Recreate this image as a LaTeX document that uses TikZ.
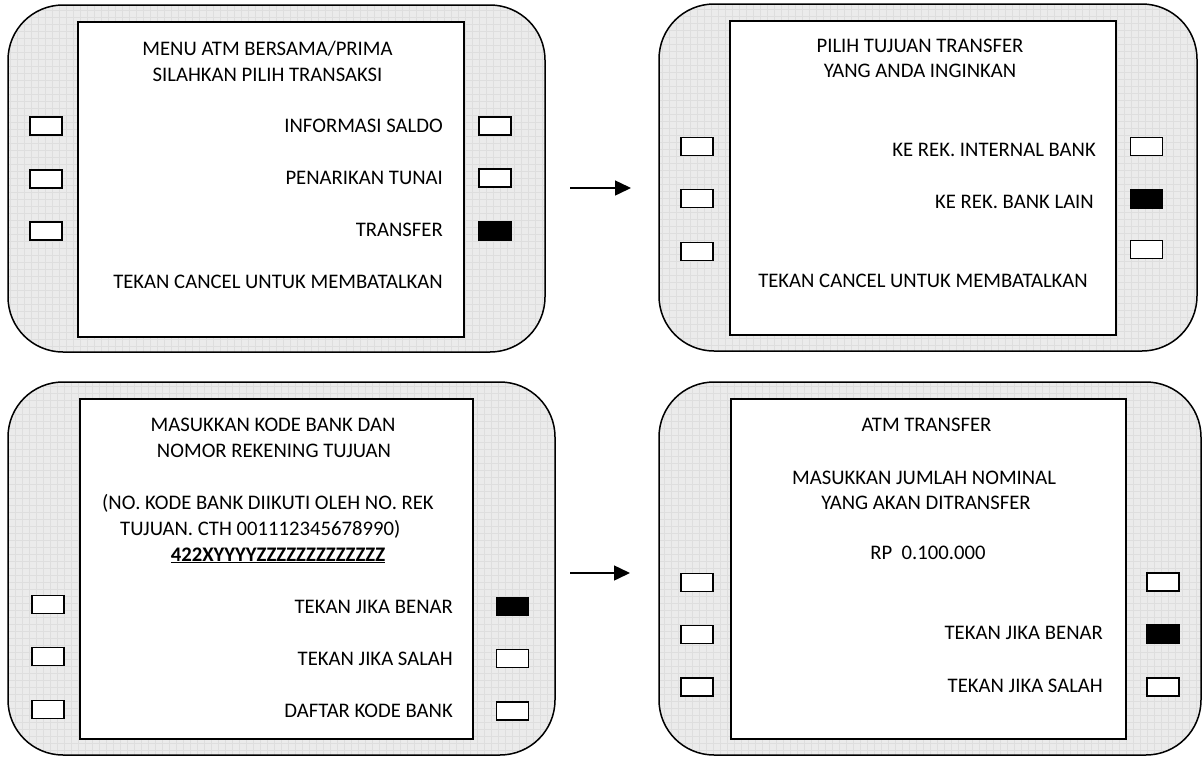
\documentclass[tikz,border=0pt]{standalone}
\usepackage{fontspec}
\setmainfont{Carlito}
\usetikzlibrary{arrows.meta}
\begin{document}
\begin{tikzpicture}[x=1pt,y=-1pt,
  panel/.style={draw, line width=1.5pt, rounded corners=55pt, fill=black!8, inner sep=0pt,
    path picture={\draw[black!13, line width=0.5pt, step=7pt] (path picture bounding box.south west) grid (path picture bounding box.north east);}},
  screen/.style={draw, line width=1.6pt, fill=white, inner sep=0pt},
  btn/.style={draw, line width=1.7pt, fill=white, minimum width=32pt, minimum height=18pt, inner sep=0pt},
  btnon/.style={btn, fill=black},
  txt/.style={font=\fontsize{20.7}{24}\selectfont, inner sep=0pt, anchor=base},
  rtxt/.style={txt, anchor=base east},
  ltxt/.style={txt, anchor=base west},
  arr/.style={line width=1.5pt, -{Triangle[length=16pt,width=15pt]}}]
\useasboundingbox (0,0) rectangle (1203,756);
% panels
\node[panel, minimum width=537pt, minimum height=347pt] (p1) at (276.5,178.5) {};
\node[panel, minimum width=538pt, minimum height=347pt] (p2) at (928,177.5) {};
\node[panel, minimum width=547pt, minimum height=373pt] (p3) at (281.5,568.5) {};
\node[panel, minimum width=542pt, minimum height=373pt] (p4) at (930,568.5) {};
% screens
\node[screen, minimum width=386pt, minimum height=315pt] (s1) at (271,179.5) {};
\node[screen, minimum width=386pt, minimum height=314pt] (s2) at (923,178) {};
\node[screen, minimum width=393pt, minimum height=340pt] (s3) at (276.5,569) {};
\node[screen, minimum width=395pt, minimum height=340pt] (s4) at (928.5,569) {};
% buttons panel 1
\node[btn] (b1l1) at (46,126) {};
\node[btn] (b1l2) at (46,179) {};
\node[btn] (b1l3) at (46,231) {};
\node[btn] (b1r1) at (495,126) {};
\node[btn] (b1r2) at (495,178) {};
\node[btnon] (b1r3) at (495,231) {};
% buttons panel 2
\node[btn] (b2l1) at (697,146.5) {};
\node[btn] (b2l2) at (697,198.5) {};
\node[btn] (b2l3) at (697,251.5) {};
\node[btn] (b2r1) at (1146.5,146.5) {};
\node[btnon] (b2r2) at (1146.5,199) {};
\node[btn] (b2r3) at (1146.5,249.5) {};
% buttons panel 3
\node[btn] (b3l1) at (48,604.5) {};
\node[btn] (b3l2) at (48,656.5) {};
\node[btn] (b3l3) at (48,709.5) {};
\node[btnon] (b3r1) at (512.5,606.5) {};
\node[btn] (b3r2) at (512.5,658.5) {};
\node[btn] (b3r3) at (512.5,711) {};
% buttons panel 4
\node[btn] (b4l1) at (697,582.5) {};
\node[btn] (b4l2) at (697,634.5) {};
\node[btn] (b4l3) at (697,687) {};
\node[btn] (b4r1) at (1163,582) {};
\node[btnon] (b4r2) at (1163,634) {};
\node[btn] (b4r3) at (1163,687) {};
% texts panel 1
\node[txt] (t11) at (267.5,55) {MENU ATM BERSAMA/PRIMA};
\node[txt] (t12) at (267.5,81) {SILAHKAN PILIH TRANSAKSI};
\node[rtxt] (t13) at (443,132) {INFORMASI SALDO};
\node[rtxt] (t14) at (443,184) {PENARIKAN TUNAI};
\node[rtxt] (t15) at (443,236) {TRANSFER};
\node[txt] (t16) at (278,288) {TEKAN CANCEL UNTUK MEMBATALKAN};
% texts panel 2
\node[txt] (t21) at (920,52) {PILIH TUJUAN TRANSFER};
\node[txt] (t22) at (920,77) {YANG ANDA INGINKAN};
\node[rtxt] (t23) at (1096,156) {KE REK. INTERNAL BANK};
\node[rtxt] (t24) at (1094,208) {KE REK. BANK LAIN};
\node[txt] (t25) at (923,287) {TEKAN CANCEL UNTUK MEMBATALKAN};
% texts panel 3
\node[txt] (t31) at (273,431) {MASUKKAN KODE BANK DAN};
\node[txt] (t32) at (274,457) {NOMOR REKENING TUJUAN};
\node[ltxt] (t33) at (102,509) {(NO. KODE BANK DIIKUTI OLEH NO. REK};
\node[ltxt] (t34) at (120,535) {TUJUAN. CTH 001112345678990)};
\node[txt] (t35) at (278,561) {\textbf{\underline{422XYYYYZZZZZZZZZZZZZ}}};
\node[rtxt] (t36) at (453,613) {TEKAN JIKA BENAR};
\node[rtxt] (t37) at (453,665) {TEKAN JIKA SALAH};
\node[rtxt] (t38) at (453,717) {DAFTAR KODE BANK};
% texts panel 4
\node[txt] (t41) at (926.5,431) {ATM TRANSFER};
\node[txt] (t42) at (924,484) {MASUKKAN JUMLAH NOMINAL};
\node[txt] (t43) at (926,509) {YANG AKAN DITRANSFER};
\node[txt] (t44) at (928,559) {RP\ \ 0.100.000};
\node[rtxt] (t45) at (1103,639) {TEKAN JIKA BENAR};
\node[rtxt] (t46) at (1103,692) {TEKAN JIKA SALAH};
% arrows
\coordinate (a1s) at (570,188);
\coordinate (a1e) at (631,188);
\coordinate (a2s) at (570,573);
\coordinate (a2e) at (630,573);
\draw[arr] (a1s) -- (a1e);
\draw[arr] (a2s) -- (a2e);
\end{tikzpicture}
\end{document}
